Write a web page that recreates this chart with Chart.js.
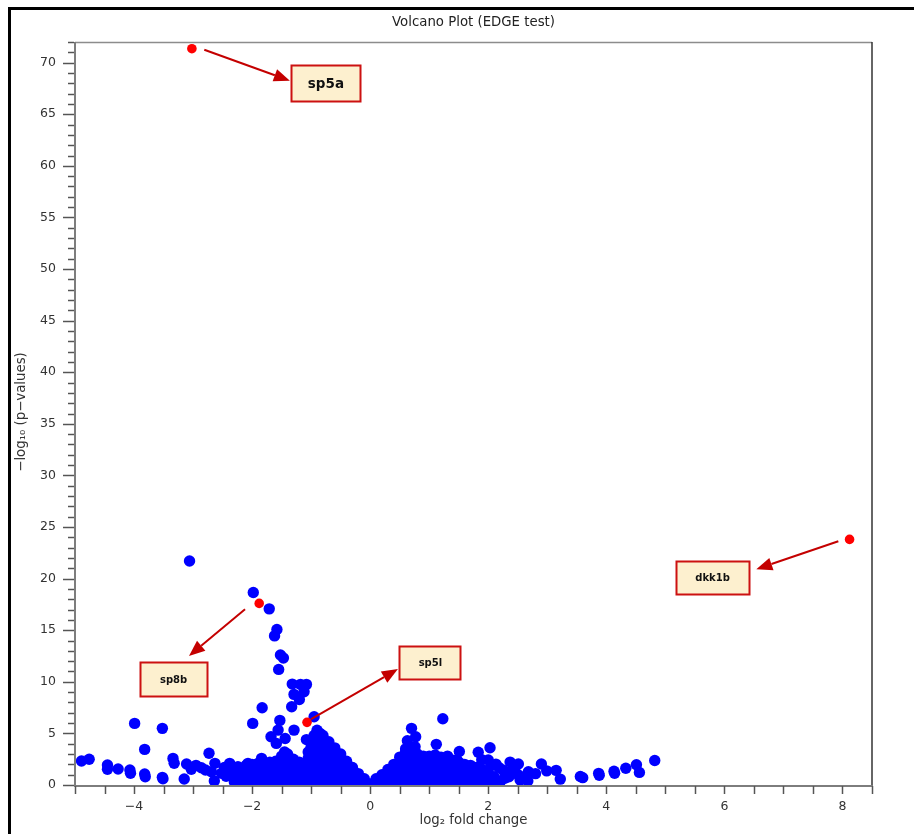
<!DOCTYPE html>
<html>
<head>
<meta charset="utf-8">
<script src="https://cdn.jsdelivr.net/npm/chart.js@4.4.1/dist/chart.umd.min.js"></script>
<style>
  html, body { margin: 0; padding: 0; background: #fff; overflow: hidden; }
  #wrap { position: relative; width: 914px; height: 834px; }
  #frame { position: absolute; left: 8px; top: 7px; width: 1000px; height: 1000px;
           border-left: 3px solid #000; border-top: 3px solid #000; pointer-events: none; }
  canvas { position: absolute; left: 0; top: 0; }
</style>
</head>
<body>
<div id="wrap">
  <div id="frame"></div>
  <canvas id="c" width="914" height="834"></canvas>
</div>
<script>
// ---------- DATA ----------
const chartTitle = 'Volcano Plot (EDGE test)';
const xAxisTitle = 'log\u2082 fold change';
const yAxisTitle = '\u2212log\u2081\u2080 (p\u2212values)';
const xLabelTicks = [-4, -2, 0, 2, 4, 6, 8];
const yLabelTicks = [0, 5, 10, 15, 20, 25, 30, 35, 40, 45, 50, 55, 60, 65, 70];

// scattered genes, left side  [log2FC, -log10 p]
const leftOutliers = [
  [-4.89,2.32],[-4.76,2.49],[-4.45,1.94],[-4.45,1.52],[-4.27,1.55],[-4.07,1.45],[-4.06,1.13],
  [-3.99,5.97],[-3.82,3.45],[-3.82,1.06],[-3.81,0.8],[-3.52,5.49],[-3.52,0.74],[-3.51,0.6],
  [-3.34,2.58],[-3.32,2.1],[-3.15,0.58],[-3.11,2.03],[-3.03,1.52],[-2.95,1.9],[-2.86,1.67],
  [-2.79,1.45],[-2.73,3.07],[-2.69,1.29],[-2.63,2.1],[-2.64,0.39],[-2.52,1.13],[-2.47,1.7],
  [-2.44,0.85],[-2.38,2.1],[-2.35,0.97],[-2.3,1.45],[-2.24,1.77],[-2.18,0.65],[-2.12,1.3],
  [-2.07,2.1],[-2.02,0.7],[-1.95,1.6],[-1.99,5.97],[-1.83,7.48],[-1.84,2.58],
  [-3.06,21.7],[-1.98,18.65],[-1.71,17.07],[-1.58,15.07],[-1.62,14.45],[-1.52,12.6],[-1.47,12.3],
  [-1.55,11.2],[-1.32,9.78],[-1.18,9.75],[-1.08,9.75],[-1.29,8.78],[-1.12,9.03],[-1.20,8.29],
  [-1.33,7.58],[-0.95,6.61],[-1.53,6.26],[-1.56,5.32],[-1.29,5.32],[-1.68,4.68],[-1.44,4.5],
  [-1.08,4.4],[-1.59,4.03]
];

// scattered genes, right side
const rightOutliers = [
  [1.23,6.42],[0.70,5.49],[0.77,4.68],[0.63,4.29],[1.12,3.94],[0.76,3.71],[1.51,3.25],
  [1.83,3.18],[2.03,3.61],[1.89,2.45],[1.31,2.8],[1.47,2.42],[2.37,2.22],[2.13,2.02],
  [2.90,2.03],[2.42,1.61],[2.68,1.29],[2.99,1.37],[3.15,1.42],[3.22,0.57],[3.56,0.83],
  [3.60,0.71],[3.87,1.13],[3.88,0.95],[4.13,1.33],[4.14,1.13],[4.33,1.63],[4.51,1.97],
  [4.56,1.22],[4.82,2.38],[2.80,1.1],[2.28,1.29],[2.25,1.45],[2.28,0.65],[2.51,0.97],
  [2.54,0.48],[2.67,0.39],[2.51,2.03],[2.0,2.42],[2.05,1.9],[2.18,1.7],[2.35,0.8],
  [2.45,1.3],[2.6,0.75],[2.2,0.3]
];

// dense core, negative fold changes
const coreLeft = [
  [-2.3,0.3],[-2.3,0.9],[-2.3,1.5],
  [-2.2,0.4],[-2.2,1.0],[-2.2,1.6],
  [-2.1,0.2],[-2.1,0.8],[-2.1,1.4],[-2.1,1.9],
  [-2.0,0.3],[-2.0,0.9],[-2.0,1.5],[-2.0,2.0],
  [-1.9,0.2],[-1.9,0.7],[-1.9,1.2],[-1.9,1.7],[-1.9,2.1],
  [-1.8,0.2],[-1.8,0.7],[-1.8,1.2],[-1.8,1.7],[-1.8,2.2],
  [-1.7,0.2],[-1.7,0.7],[-1.7,1.2],[-1.7,1.7],[-1.7,2.2],
  [-1.6,0.2],[-1.6,0.7],[-1.6,1.2],[-1.6,1.7],[-1.6,2.3],
  [-1.5,0.2],[-1.5,0.7],[-1.5,1.2],[-1.5,1.7],[-1.5,2.2],[-1.5,2.8],
  [-1.45,1.0],[-1.45,2.0],[-1.45,3.2],
  [-1.4,0.2],[-1.4,0.7],[-1.4,1.2],[-1.4,1.7],[-1.4,2.2],[-1.4,2.7],[-1.4,3.0],
  [-1.3,0.2],[-1.3,0.7],[-1.3,1.2],[-1.3,1.7],[-1.3,2.2],[-1.3,2.5],
  [-1.2,0.2],[-1.2,0.7],[-1.2,1.2],[-1.2,1.7],[-1.2,2.2],
  [-1.1,0.2],[-1.1,0.7],[-1.1,1.2],[-1.1,1.7],[-1.1,2.1],
  [-1.05,2.6],[-1.05,3.2],
  [-1.0,0.2],[-1.0,0.7],[-1.0,1.2],[-1.0,1.7],[-1.0,2.2],[-1.0,2.7],[-1.0,3.2],[-1.0,3.7],[-1.0,4.3],
  [-0.95,4.8],
  [-0.9,0.2],[-0.9,0.7],[-0.9,1.2],[-0.9,1.7],[-0.9,2.2],[-0.9,2.7],[-0.9,3.2],[-0.9,3.7],[-0.9,4.2],[-0.9,4.7],[-0.9,5.3],
  [-0.85,5.0],
  [-0.8,0.2],[-0.8,0.7],[-0.8,1.2],[-0.8,1.7],[-0.8,2.2],[-0.8,2.7],[-0.8,3.2],[-0.8,3.7],[-0.8,4.2],[-0.8,4.8],
  [-0.7,0.2],[-0.7,0.7],[-0.7,1.2],[-0.7,1.7],[-0.7,2.2],[-0.7,2.7],[-0.7,3.2],[-0.7,3.7],[-0.7,4.2],
  [-0.6,0.2],[-0.6,0.7],[-0.6,1.2],[-0.6,1.7],[-0.6,2.2],[-0.6,2.7],[-0.6,3.2],[-0.6,3.6],
  [-0.5,0.2],[-0.5,0.7],[-0.5,1.2],[-0.5,1.7],[-0.5,2.2],[-0.5,2.6],[-0.5,3.0],
  [-0.4,0.2],[-0.4,0.7],[-0.4,1.2],[-0.4,1.7],[-0.4,2.3],
  [-0.3,0.2],[-0.3,0.7],[-0.3,1.2],[-0.3,1.7],
  [-0.2,0.2],[-0.2,0.6],[-0.2,1.1],
  [-0.1,0.2],[-0.1,0.6],
  [0.0,0.1]
];

// dense core, positive fold changes
const coreRight = [
  [0.1,0.2],[0.1,0.6],
  [0.2,0.2],[0.2,0.6],[0.2,1.0],
  [0.3,0.2],[0.3,0.7],[0.3,1.2],[0.3,1.5],
  [0.4,0.2],[0.4,0.7],[0.4,1.2],[0.4,1.7],[0.4,2.0],
  [0.5,0.2],[0.5,0.7],[0.5,1.2],[0.5,1.7],[0.5,2.2],[0.5,2.7],
  [0.6,0.2],[0.6,0.7],[0.6,1.2],[0.6,1.7],[0.6,2.2],[0.6,2.7],[0.6,3.2],[0.6,3.5],
  [0.7,0.2],[0.7,0.7],[0.7,1.2],[0.7,1.7],[0.7,2.2],[0.7,2.7],[0.7,3.2],
  [0.8,0.2],[0.8,0.7],[0.8,1.2],[0.8,1.7],[0.8,2.2],[0.8,2.7],[0.8,3.0],
  [0.9,0.2],[0.9,0.7],[0.9,1.2],[0.9,1.7],[0.9,2.2],[0.9,2.8],
  [1.0,0.2],[1.0,0.7],[1.0,1.2],[1.0,1.7],[1.0,2.2],[1.0,2.8],
  [1.1,0.2],[1.1,0.7],[1.1,1.2],[1.1,1.7],[1.1,2.2],[1.1,2.9],
  [1.2,0.2],[1.2,0.7],[1.2,1.2],[1.2,1.7],[1.2,2.2],[1.2,2.7],
  [1.3,0.2],[1.3,0.7],[1.3,1.2],[1.3,1.7],[1.3,2.2],[1.3,2.5],
  [1.4,0.2],[1.4,0.7],[1.4,1.2],[1.4,1.7],[1.4,2.4],
  [1.5,0.2],[1.5,0.7],[1.5,1.2],[1.5,1.7],[1.5,2.2],
  [1.6,0.2],[1.6,0.7],[1.6,1.2],[1.6,1.7],[1.6,2.0],
  [1.7,0.2],[1.7,0.7],[1.7,1.2],[1.7,1.9],
  [1.8,0.2],[1.8,0.7],[1.8,1.2],[1.8,1.7],
  [1.9,0.2],[1.9,0.7],[1.9,1.2],[1.9,1.5],
  [2.0,0.3],[2.0,0.8],[2.0,1.2],
  [2.1,0.2],[2.1,0.8],
  [2.2,0.4]
];

// highlighted genes
const hlGenes = ['sp5a', 'sp8b', 'sp5l', 'dkk1b'];
const hlFC    = [-3.02, -1.88, -1.07, 8.12];
const hlP     = [71.35, 17.6, 6.07, 23.8];

// ---------- annotation placement (data units) ----------
const hlBoxCenter = [[-0.75, 67.96], [-3.33, 10.21], [1.02, 11.81], [5.80, 20.04]];
const hlArrowTail = [[-2.81, 71.25], [-2.12, 17.04], [-1.0, 6.39], [7.93, 23.62]];
const hlArrowTip  = [[-1.36, 68.25], [-3.07, 12.49], [0.47, 11.23], [6.54, 20.91]];
const hlBoxStyle  = [
  {w: 70, h: 37, font: 'bold 13.5px "DejaVu Sans"'},
  {w: 68, h: 35, font: 'bold 10px "DejaVu Sans"'},
  {w: 62, h: 34, font: 'bold 10px "DejaVu Sans"'},
  {w: 74, h: 34, font: 'bold 10px "DejaVu Sans"'}
];

const toPts = arr => arr.map(p => ({x: p[0], y: p[1]}));
const bluePoints = [].concat(toPts(coreLeft), toPts(coreRight), toPts(leftOutliers), toPts(rightOutliers));
const redPoints = hlFC.map((v, i) => ({x: v, y: hlP[i]}));

const fmt = v => (v < 0 ? '\u2212' + Math.abs(v) : String(v));

const decor = {
  id: 'decor',
  afterDatasetsDraw(chart) {
    const {ctx, chartArea: a, scales: {x, y}} = chart;
    ctx.save();
    // top & right borders
    ctx.lineWidth = 1.5;
    ctx.strokeStyle = '#8c8c8c';
    ctx.beginPath(); ctx.moveTo(a.left, a.top + 0.5); ctx.lineTo(a.right, a.top + 0.5); ctx.stroke();
    ctx.strokeStyle = '#333';
    ctx.beginPath(); ctx.moveTo(a.right, a.top); ctx.lineTo(a.right, a.bottom); ctx.stroke();
    // axis lines
    ctx.strokeStyle = '#7d7d7d';
    ctx.lineWidth = 2;
    ctx.beginPath(); ctx.moveTo(a.left, a.top); ctx.lineTo(a.left, a.bottom + 1); ctx.lineTo(a.right + 1, a.bottom + 1); ctx.stroke();
    // ticks
    ctx.lineWidth = 1.5;
    ctx.strokeStyle = '#555';
    x.ticks.forEach(t => {
      const px = Math.round(x.getPixelForValue(t.value)) + 0.5;
      ctx.beginPath(); ctx.moveTo(px, a.bottom + 1); ctx.lineTo(px, a.bottom + 9); ctx.stroke();
    });
    y.ticks.forEach(t => {
      const py = Math.round(y.getPixelForValue(t.value)) + 0.5;
      const len = (t.value % 5 === 0) ? 11 : 6;
      ctx.beginPath(); ctx.moveTo(a.left - 1, py); ctx.lineTo(a.left - 1 - len, py); ctx.stroke();
    });
    // titles
    ctx.fillStyle = '#222';
    ctx.font = '13.3px "DejaVu Sans"';
    ctx.textAlign = 'center';
    ctx.textBaseline = 'middle';
    ctx.fillText(chartTitle, (a.left + a.right) / 2, 23);
    ctx.font = '13.3px "DejaVu Sans"';
    ctx.fillStyle = '#333';
    ctx.fillText(xAxisTitle, (a.left + a.right) / 2, 821);
    ctx.save();
    ctx.translate(22, 412);
    ctx.rotate(-Math.PI / 2);
    ctx.fillText(yAxisTitle, 0, 0);
    ctx.restore();

    // annotations
    hlGenes.forEach((g, i) => {
      const tx = x.getPixelForValue(hlArrowTail[i][0]), ty = y.getPixelForValue(hlArrowTail[i][1]);
      const hx = x.getPixelForValue(hlArrowTip[i][0]),  hy = y.getPixelForValue(hlArrowTip[i][1]);
      const ang = Math.atan2(hy - ty, hx - tx);
      const headL = 16, headW = 6.5;
      const bx = hx - headL * Math.cos(ang), by = hy - headL * Math.sin(ang);
      ctx.strokeStyle = '#c40000';
      ctx.fillStyle = '#c40000';
      ctx.lineWidth = 2;
      ctx.beginPath(); ctx.moveTo(tx, ty); ctx.lineTo(bx, by); ctx.stroke();
      ctx.beginPath();
      ctx.moveTo(hx, hy);
      ctx.lineTo(bx + headW * Math.sin(ang), by - headW * Math.cos(ang));
      ctx.lineTo(bx - headW * Math.sin(ang), by + headW * Math.cos(ang));
      ctx.closePath(); ctx.fill();

      const st = hlBoxStyle[i];
      const cx = x.getPixelForValue(hlBoxCenter[i][0]), cy = y.getPixelForValue(hlBoxCenter[i][1]);
      const l = Math.round(cx - st.w / 2), t = Math.round(cy - st.h / 2);
      ctx.fillStyle = '#fdf0cf';
      ctx.fillRect(l, t, st.w, st.h);
      ctx.strokeStyle = '#cc1111';
      ctx.lineWidth = 2;
      ctx.strokeRect(l + 0.5, t + 0.5, st.w - 1, st.h - 1);
      ctx.fillStyle = '#111';
      ctx.font = st.font;
      ctx.textAlign = 'center';
      ctx.textBaseline = 'middle';
      ctx.fillText(g, cx, cy + 0.5);
    });
    ctx.restore();
  }
};

new Chart(document.getElementById('c'), {
  type: 'scatter',
  data: {
    datasets: [
      { label: 'highlighted', data: redPoints, backgroundColor: '#ff0000', borderWidth: 0,
        pointRadius: 4.8, pointHoverRadius: 4.8 },
      { label: 'genes', data: bluePoints, backgroundColor: '#0000ff', borderWidth: 0,
        pointRadius: 5.7, pointHoverRadius: 5.7 }
    ]
  },
  options: {
    responsive: false,
    animation: false,
    devicePixelRatio: 1,
    layout: { padding: { left: 10, top: 42, right: 42, bottom: 0 } },
    plugins: { legend: { display: false }, tooltip: { enabled: false }, title: { display: false } },
    scales: {
      x: {
        type: 'linear', min: -5, max: 8.5,
        afterFit: s => { s.height = 49; },
        grid: { drawOnChartArea: false, drawTicks: false },
        border: { display: false },
        ticks: {
          stepSize: 0.5, autoSkip: false, maxRotation: 0, padding: 14,
          color: '#333', font: { family: 'DejaVu Sans', size: 12.5 },
          callback: v => (xLabelTicks.includes(v) ? fmt(v) : '')
        }
      },
      y: {
        type: 'linear', min: 0, max: 72,
        afterFit: s => { s.width = 65; },
        grid: { drawOnChartArea: false, drawTicks: false },
        border: { display: false },
        ticks: {
          stepSize: 1, autoSkip: false, padding: 19,
          color: '#333', font: { family: 'DejaVu Sans', size: 12.5 },
          callback: v => (yLabelTicks.includes(v) ? fmt(v) : '')
        }
      }
    }
  },
  plugins: [decor]
});
</script>
</body>
</html>
